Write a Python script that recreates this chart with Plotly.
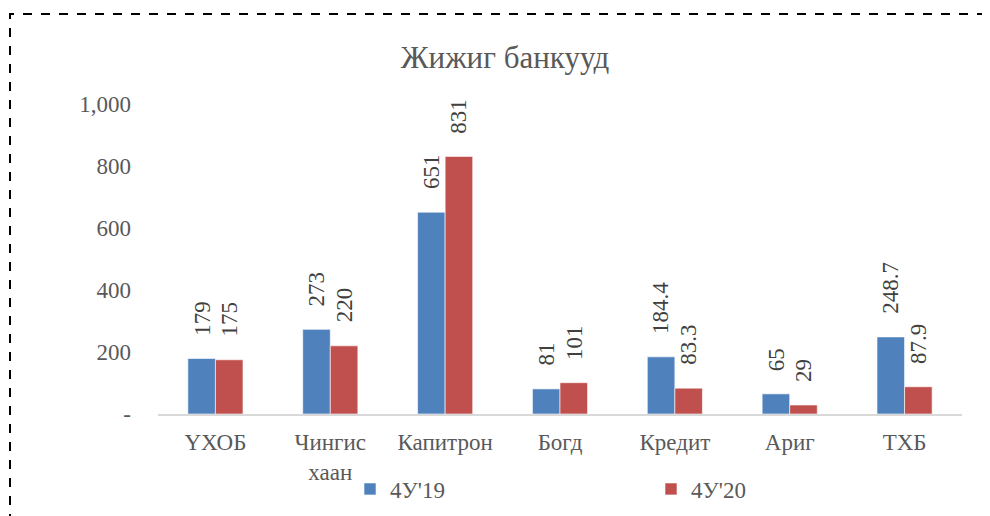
import plotly.graph_objects as go

categories = ["ҮХОБ", "Чингис<br>хаан", "Капитрон", "Богд", "Кредит", "Ариг", "ТХБ"]
series_names = ["4У'19", "4У'20"]
values_19 = [179, 273, 651, 81, 184.4, 65, 248.7]
values_20 = [175, 220, 831, 101, 83.3, 29, 87.9]
label_19 = ["179", "273", "651", "81", "184.4", "65", "248.7"]
label_20 = ["175", "220", "831", "101", "83.3", "29", "87.9"]
y_tickvals = [0, 200, 400, 600, 800, 1000]
y_ticktext = ["-", "200", "400", "600", "800", "1,000"]
colors = ["#4F81BD", "#C0504D"]
title_text = "Жижиг банкууд"

FONT = "Liberation Serif"
GRAY = "#595959"

OFF = 8  # page body margin offset
W, H = 990, 516
L = 158 - OFF
T = 104 - OFF
pw = 804
ph = 310
R = W - L - pw
B = H - T - ph

fig = go.Figure()
for name, vals, col in zip(series_names, [values_19, values_20], colors):
    fig.add_trace(go.Bar(
        x=categories, y=vals, name=name,
        marker=dict(color=col, line=dict(color="rgba(255,255,255,0.6)", width=1)),
        hoverinfo="x+y",
    ))

bar_px = pw / len(categories) * 0.48 / 2
annotations = []
for labels, vals, shift in [(label_19, values_19, -bar_px / 2), (label_20, values_20, bar_px / 2)]:
    for c, v, t in zip(categories, vals, labels):
        annotations.append(dict(
            x=c, y=v, xref="x", yref="y", text=t, showarrow=False,
            textangle=-90, xanchor="center", yanchor="bottom",
            xshift=shift, yshift=21,
            font=dict(family=FONT, size=23, color="#404040"),
        ))

def px_x(p):
    return (p - OFF - L) / pw

def px_y(p):
    return (T + ph - (p - OFF)) / ph

fig.update_layout(
    width=W, height=H,
    margin=dict(l=L, r=R, t=T, b=B, autoexpand=False),
    paper_bgcolor="white", plot_bgcolor="white",
    barmode="group", bargap=0.52, bargroupgap=0,
    font=dict(family=FONT, color=GRAY, size=23),
    title=dict(text=title_text, x=(505 - OFF) / W, xanchor="center", xref="container",
               y=1 - (57 - OFF) / H, yanchor="middle",
               font=dict(family=FONT, size=31, color=GRAY)),
    xaxis=dict(showline=True, linecolor="#D9D9D9", linewidth=2, ticks="",
               tickfont=dict(family=FONT, size=23, color=GRAY),
               ticklabelstandoff=6, showgrid=False, zeroline=False),
    yaxis=dict(range=[0, 1000], tickvals=y_tickvals, ticktext=y_ticktext,
               showgrid=False, zeroline=False, showline=False, ticks="",
               tickfont=dict(family=FONT, size=23, color=GRAY),
               ticklabelstandoff=26),
    showlegend=True,
    legend=dict(orientation="h", x=px_x(350), xanchor="left",
                y=px_y(489), yanchor="middle",
                entrywidth=256, entrywidthmode="pixels",
                font=dict(family=FONT, size=23, color=GRAY),
                bgcolor="rgba(0,0,0,0)", itemclick=False, itemdoubleclick=False),
    annotations=annotations,
    shapes=[dict(type="rect", xref="paper", yref="paper",
                 x0=px_x(10), x1=px_x(1005), y0=px_y(530), y1=px_y(14),
                 line=dict(color="black", width=2, dash="dash"),
                 fillcolor="rgba(0,0,0,0)", layer="above")],
)

fig.write_html("out.html")
